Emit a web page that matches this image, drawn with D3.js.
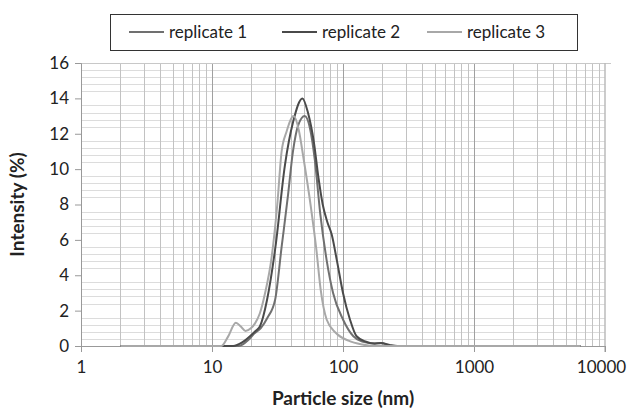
<!DOCTYPE html>
<html>
<head>
<meta charset="utf-8">
<script src="https://cdn.jsdelivr.net/npm/d3@7"></script>
<style>
  body { margin: 0; background: #fff; }
  text { font-family: Lato, "Open Sans", sans-serif; fill: #222; }
</style>
</head>
<body>
<div id="chart"></div>
<script>
// sizes (nm) and intensity (%)
const rep1Size = [2, 16, 19, 21, 23.5, 26.5, 30.3, 34, 38, 41.5, 45.6, 51, 56, 61, 67, 75, 84, 100, 120, 140, 170, 195, 240, 6500];
const rep1Int  = [0, 0, 0.35, 0.7, 1.0, 1.6, 2.6, 5.6, 8.5, 11, 12.5, 13, 12.3, 10.5, 7.5, 4.86, 3.0, 1.5, 0.55, 0.25, 0.15, 0.15, 0, 0];
const rep2Size = [2, 14.5, 17, 19.5, 21.5, 23.2, 26.3, 30.5, 36, 41.7, 49, 54, 60, 65, 70, 76, 82, 90, 100, 113, 127, 150, 175, 195, 230, 260, 6500];
const rep2Int  = [0, 0, 0.2, 0.55, 0.85, 1.1, 2.6, 5.6, 10.2, 12.7, 14, 13.2, 11.5, 9.5, 8, 7, 6.3, 4.8, 3.0, 1.5, 0.55, 0.24, 0.13, 0.17, 0.05, 0, 0];
const rep3Size = [2, 11.8, 13.2, 15.2, 16.6, 18, 19.8, 21.3, 23.2, 25.4, 28.5, 31.5, 34, 37, 42, 46, 50, 57, 62.5, 67.5, 75, 88, 110, 140, 170, 6500];
const rep3Int  = [0, 0, 0.5, 1.32, 1.1, 0.85, 1.0, 1.28, 1.85, 2.98, 5.0, 8, 11, 12.1, 13, 12.2, 10.6, 7.8, 5.5, 3.2, 1.5, 0.75, 0.3, 0.08, 0, 0];

const seriesNames = ["replicate 1", "replicate 2", "replicate 3"];
const seriesColors = ["#707070", "#4a4a4a", "#a8a8a8"];
const xTicks = [1, 10, 100, 1000, 10000];
const yTicks = [0, 2, 4, 6, 8, 10, 12, 14, 16];

const series = [
  { name: seriesNames[0], color: seriesColors[0], pts: rep1Size.map((s, i) => [s, rep1Int[i]]) },
  { name: seriesNames[1], color: seriesColors[1], pts: rep2Size.map((s, i) => [s, rep2Int[i]]) },
  { name: seriesNames[2], color: seriesColors[2], pts: rep3Size.map((s, i) => [s, rep3Int[i]]) }
];

const W = 630, H = 410;
const margin = { top: 63, right: 25, bottom: 64, left: 81 };
const svg = d3.select("#chart").append("svg").attr("width", W).attr("height", H);

const x = d3.scaleLog().domain([1, 10000]).range([margin.left, W - margin.right]);
const y = d3.scaleLinear().domain([0, 16]).range([H - margin.bottom, margin.top]);

// horizontal minor gridlines (every 0.4)
const hMinor = d3.range(1, 40).map(i => i * 0.4).filter(v => Math.abs(v / 2 - Math.round(v / 2)) > 0.01);
svg.append("g").selectAll("line").data(hMinor).join("line")
  .attr("x1", x(1)).attr("x2", x(10000))
  .attr("y1", d => Math.round(y(d)) + 0.5).attr("y2", d => Math.round(y(d)) + 0.5)
  .attr("stroke", "#dcdcdc");

// vertical gridlines: minor 2..9 each decade, major at decades
const vMinor = [];
[1, 10, 100, 1000].forEach(dec => { for (let k = 2; k <= 9; k++) vMinor.push(dec * k); });
svg.append("g").selectAll("line").data(vMinor).join("line")
  .attr("x1", d => Math.round(x(d)) + 0.5).attr("x2", d => Math.round(x(d)) + 0.5)
  .attr("y1", y(16)).attr("y2", y(0))
  .attr("stroke", "#c2c2c2");
svg.append("g").selectAll("line").data([10, 100, 1000]).join("line")
  .attr("x1", d => Math.round(x(d)) + 0.5).attr("x2", d => Math.round(x(d)) + 0.5)
  .attr("y1", y(16)).attr("y2", y(0))
  .attr("stroke", "#a0a0a0");

// top and right border
svg.append("line").attr("x1", x(1)).attr("x2", x(10000) + 6)
  .attr("y1", Math.round(y(16)) + 0.5).attr("y2", Math.round(y(16)) + 0.5).attr("stroke", "#c8c8c8");
svg.append("line").attr("x1", Math.round(x(10000))).attr("x2", Math.round(x(10000)))
  .attr("y1", y(16)).attr("y2", y(0) + 6).attr("stroke", "#bbbbbb").attr("stroke-width", 1.5);

// axes
const yAxis = svg.append("g").attr("transform", `translate(${margin.left},0)`)
  .call(d3.axisLeft(y).tickValues(yTicks).tickSize(6).tickPadding(6));
const xAxis = svg.append("g").attr("transform", `translate(0,${H - margin.bottom})`)
  .call(d3.axisBottom(x).tickValues(xTicks).tickFormat(d3.format("d")).tickSize(6).tickPadding(9));
[yAxis, xAxis].forEach(a => {
  a.select(".domain").attr("stroke", "#999");
  a.selectAll(".tick line").attr("stroke", "#999");
  a.selectAll(".tick text").attr("font-size", 17).attr("fill", "#222")
    .style("font-family", "Lato, 'Open Sans', sans-serif");
});
// keep the last label inside the page
xAxis.selectAll(".tick text").filter(d => d === 10000).attr("dx", -4);

// series
const line = d3.line().x(d => x(d[0])).y(d => y(d[1])).curve(d3.curveMonotoneX);
svg.append("g").selectAll("path").data(series).join("path")
  .attr("d", d => line(d.pts))
  .attr("fill", "none")
  .attr("stroke", d => d.color)
  .attr("stroke-width", 2);

// axis titles
svg.append("text").attr("transform", `translate(24,${(y(0) + y(16)) / 2}) rotate(-90)`)
  .attr("text-anchor", "middle").attr("font-size", 19).attr("font-weight", "bold")
  .text("Intensity (%)");
svg.append("text").attr("x", (x(1) + x(10000)) / 2).attr("y", 405)
  .attr("text-anchor", "middle").attr("font-size", 19).attr("font-weight", "bold")
  .text("Particle size (nm)");

// legend
const legend = svg.append("g");
legend.append("rect").attr("x", 110.5).attr("y", 14.5).attr("width", 467).attr("height", 36)
  .attr("fill", "#fff").attr("stroke", "#333");
const legX = [129, 282, 427];
const item = legend.selectAll("g.item").data(series).join("g").attr("class", "item")
  .attr("transform", (d, i) => `translate(${legX[i]},32)`);
item.append("line").attr("x1", 0).attr("x2", 35).attr("stroke", d => d.color).attr("stroke-width", 2);
item.append("text").attr("x", 40).attr("y", 6).attr("font-size", 17).text(d => d.name);
</script>
</body>
</html>
